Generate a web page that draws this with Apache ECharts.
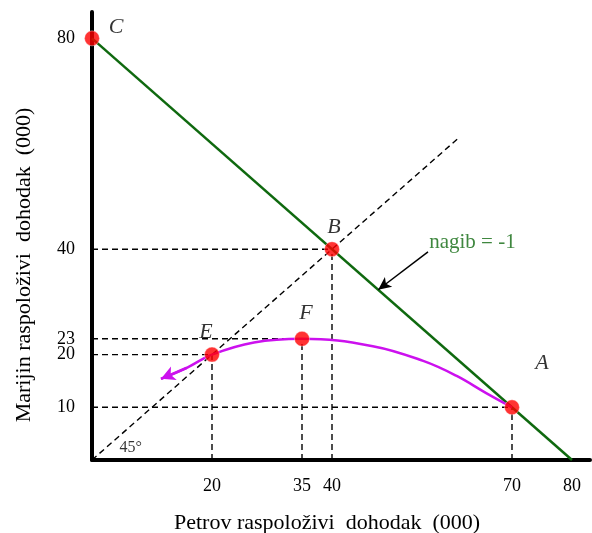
<!DOCTYPE html>
<html>
<head>
<meta charset="utf-8">
<script src="https://cdn.jsdelivr.net/npm/echarts@6/dist/echarts.min.js"></script>
<style>html,body{margin:0;padding:0;background:#fff}#c{width:592px;height:533px}</style>
</head>
<body>
<div id="c"></div>
<script>
// ---- data ----
const xTickValues = [20, 35, 40, 70, 80];
const yTickValues = [10, 20, 23, 40, 80];
const pointNames = ['C', 'B', 'F', 'E', 'A'];
const pointX = [0, 40, 35, 20, 70];
const pointY = [80, 40, 23, 20, 10];
const budgetLine = [[0, 80], [80, 0]];
const line45 = [[0, 0], [61, 61]];
const curveX = [70, 65.7, 60.7, 55.2, 46.8, 35, 27, 20, 15.8, 11.5];
const curveY = [10, 12.7, 16, 18.8, 21.6, 23, 22.3, 20, 17.5, 15.4];
const slopeArrow = [[56, 39.5], [47.7, 32.3]];
const slopeText = 'nagib = -1';
const slopeTextPos = [56.2, 41.2];
const angleText = '45°';
const angleTextPos = [4.6, 2.3];
const xTitle = 'Petrov raspoloživi  dohodak  (000)';
const yTitle = 'Marijin raspoloživi  dohodak  (000)';

// ---- build ----
const serif = 'Liberation Serif, Times New Roman, serif';
const green = '#0f690f';
const magenta = '#cc11ee';
const dash = {color: '#000', width: 1.4, type: [6, 4]};

const guides = [];
for (let i = 0; i < pointX.length; i++) {
  const x = pointX[i], y = pointY[i];
  if (x > 0 && y > 0) {
    guides.push([[0, y], [x, y]]);
    guides.push([[x, 0], [x, y]]);
  }
}
const guideSeries = guides.map(g => ({
  type: 'line', data: g, symbol: 'none', silent: true, z: 1,
  lineStyle: dash
}));

const labelOffsets = {C: [24, -11], B: [2, -22], F: [4, -26], E: [-6, -22], A: [30, -44]};
const points = pointNames.map((n, i) => ({
  value: [pointX[i], pointY[i]],
  label: {show: true, formatter: n, position: 'inside', offset: labelOffsets[n],
    fontFamily: serif, fontStyle: 'italic', fontSize: 22, color: '#000'}
}));

const curve = curveX.map((x, i) => [x, curveY[i]]);
const n = curve.length;

const option = {
  animation: false,
  grid: {left: 92, top: 12, width: 498, height: 448, containLabel: false, outerBoundsMode: 'none'},
  xAxis: {
    type: 'value', min: 0, max: 83,
    splitLine: {show: false},
    axisLine: {lineStyle: {color: '#000', width: 4}},
    axisTick: {show: false},
    axisLabel: {customValues: xTickValues, fontFamily: serif, fontSize: 18, color: '#000', margin: 17},
    name: xTitle, nameLocation: 'middle', nameGap: 52,
    nameTextStyle: {fontFamily: serif, fontSize: 22, color: '#000', padding: [0, 28, 0, 0]}
  },
  yAxis: {
    type: 'value', min: 0, max: 85,
    splitLine: {show: false},
    axisLine: {lineStyle: {color: '#000', width: 4}},
    axisTick: {show: false},
    axisLabel: {customValues: yTickValues, fontFamily: serif, fontSize: 18, color: '#000', margin: 17},
    name: yTitle, nameLocation: 'middle', nameGap: 57, nameRotate: 90,
    nameTextStyle: {fontFamily: serif, fontSize: 22, color: '#000', padding: [0, 58, 0, 0]}
  },
  series: [
    ...guideSeries,
    {type: 'line', data: line45, symbol: 'none', silent: true, z: 1, lineStyle: dash},
    {type: 'line', data: budgetLine, symbol: 'none', silent: true, z: 2,
      lineStyle: {color: green, width: 2.5}},
    {type: 'line', data: curve, symbol: 'none', smooth: 0.4, silent: true, z: 3,
      lineStyle: {color: magenta, width: 2.5},
      markLine: {silent: true, symbol: ['none', 'arrow'], symbolSize: [11, 14],
        label: {show: false},
        lineStyle: {color: magenta, width: 2.5, type: 'solid'},
        data: [[{coord: curve[n - 2]}, {coord: curve[n - 1]}]]}
    },
    {type: 'line', data: [], symbol: 'none',
      markLine: {silent: true, symbol: ['none', 'arrow'], symbolSize: [9, 13],
        label: {show: false},
        lineStyle: {color: '#000', width: 1.5, type: 'solid'},
        data: [[{coord: slopeArrow[0]}, {coord: slopeArrow[1]}]]}
    },
    {type: 'scatter', data: points, symbolSize: 15, z: 5,
      itemStyle: {color: '#ff0000', borderColor: '#fff', borderWidth: 0.5}},
    {type: 'scatter', symbolSize: 0, silent: true, z: 6,
      data: [{value: slopeTextPos, label: {show: true, formatter: slopeText, position: 'right', distance: 0,
        fontFamily: serif, fontSize: 21, color: green}},
        {value: angleTextPos, label: {show: true, formatter: angleText, position: 'right', distance: 0,
        fontFamily: serif, fontSize: 16, color: '#000'}}]}
  ]
};
echarts.init(document.getElementById('c')).setOption(option);
</script>
</body>
</html>
